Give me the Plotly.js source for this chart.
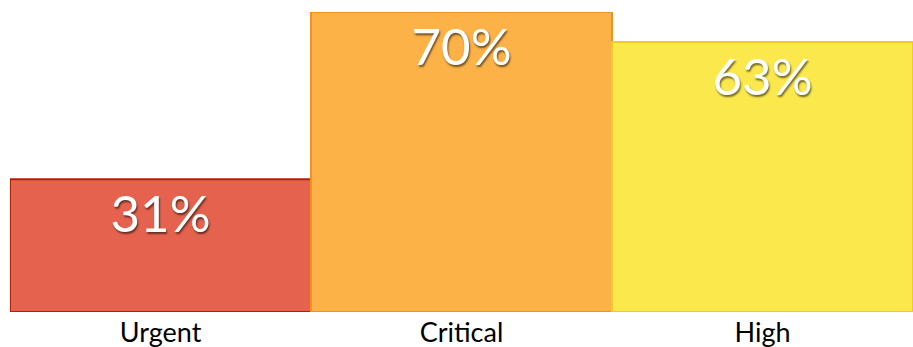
<!DOCTYPE html>
<html><head><meta charset="utf-8">
<script src="https://cdn.plot.ly/plotly-3.0.1.min.js"></script>
<style>html,body{margin:0;padding:0;background:#fff}#c{width:913px;height:347px}</style>
</head><body><div id="c"></div>
<script>
const categories = ["Urgent", "Critical", "High"];
const values = [31, 70, 63];
const labels = ["31%", "70%", "63%"];
const colors = ["#E5634E", "#FCB247", "#FBE84C"];
const edgeColors = ["#B51E00", "#F0921C", "#F2CB2A"];

Plotly.newPlot("c", [{
  type: "bar",
  x: categories,
  y: values,
  text: labels,
  textposition: "inside",
  insidetextanchor: "end",
  textangle: 0,
  constraintext: "none",
  textfont: {family: "Lato, 'Open Sans', sans-serif", size: 51, color: "#ffffff", shadow: "1px 2px 2px rgba(0,0,0,0.55)"},
  marker: {color: colors, line: {color: edgeColors, width: 2}},
  hoverinfo: "none"
}], {
  width: 913, height: 347,
  margin: {l: 10, r: 0, t: 12, b: 35},
  bargap: 0,
  paper_bgcolor: "#ffffff",
  plot_bgcolor: "#ffffff",
  showlegend: false,
  xaxis: {showline: false, showgrid: false, zeroline: false, ticks: "", ticklabelstandoff: 2,
          tickfont: {family: "Lato, 'Open Sans', sans-serif", size: 27, color: "#000"}},
  yaxis: {range: [0, 70], visible: false, showgrid: false, zeroline: false}
}, {displayModeBar: false, staticPlot: true});
</script></body></html>
